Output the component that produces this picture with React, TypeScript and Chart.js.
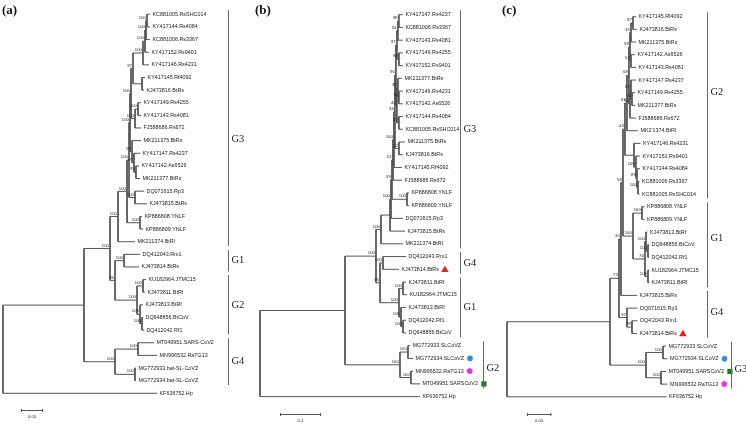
import React, { useEffect, useRef } from "react";
import { Chart, registerables } from "chart.js";

Chart.register(...registerables);

// ================= DATA =================
// ---- Panel (a) ----
const leavesA = [
  "KC881005.RsSHC014", "KY417144.Rs4084", "KC881006.Rs3367", "KY417152.Rs9401", "KY417146.Rs4231",
  "KY417145.Rf4092", "KJ473816.BtRs", "KY417149.Rs4255", "KY417143.Rs4081", "FJ588686.Rs672",
  "MK211375.BtRs", "KY417147.Rs4237", "KY417142.As6526", "MK211377.BtRs", "DQ071615.Rp3",
  "KJ473815.BtRs", "KP886808.YNLF", "KP886809.YNLF", "MK211374.BtRl", "DQ412043.Rm1",
  "KJ473814.BtRs", "KU182964.JTMC15", "KJ473811.BtRf", "KJ473813.BtRf", "DQ648856.BtCoV",
  "DQ412042.Rf1", "MT049951.SARS-CoV2", "MN996532.RaTG13", "MG772933.bat-SL-CoVZ", "MG772934.bat-SL-CoVZ",
  "KF636752.Hp",
];
const a_A1 = "((((0:.0068,1:.0068)100:.0023,2:.0091)100:.0023,3:.0091)100:.0045,4:.0136)100";
const a_A2 = "(5:.0068,6:.0045)";
const a_B = `(${a_A1}:.0227,${a_A2}:.0205)97`;
const a_C1 = "((7:.0068,8:.0068)100:.0068,9:.0136)100";
const a_X = `(${a_B}:.0045,${a_C1}:.0091)100`;
const a_D = "(10:.0205,(11:.0136,(12:.0068,13:.0091)99:.0045)97:.0045)93";
const a_G3core = `(${a_X}:.0023,${a_D}:.0045)100`;
const a_E = "(14:.0205,15:.0273)100";
const a_F = `(${a_G3core}:.0023,${a_E}:.0136)100`;
const a_KP = "(16:.0045,17:.0068)100";
const a_G = `(${a_F}:.0045,${a_KP}:.0295)100`;
const a_H = `(${a_G}:.0205,18:.0386)100`;
const a_G1 = "(19:.0364,20:.0341)100";
const a_G2 = "((21:.0068,22:.0045)100:.0136,(23:.0068,(24:.0023,25:.0045)100:.0045)100:.0068)100";
const a_G12 = `(${a_G1}:.0205,${a_G2}:.05)95`;
const a_I = `(${a_H}:.0182,${a_G12}:.0114)100`;
const a_G4 = "((26:.0364,27:.0432)100:.0523,(28:.0023,29:.0023)100:.0455)100";
const a_N1 = `(${a_I}:.0591,${a_G4}:.0705)`;
const treeA = `(${a_N1}:.1841,30:.35);`;
const cladesA = [
  { label: "G3", first: 0, last: 18 },
  { label: "G1", first: 19, last: 20 },
  { label: "G2", first: 21, last: 25 },
  { label: "G4", first: 26, last: 29 },
];
const markersA: { leaf: number; kind: string }[] = [];
const scaleBarA = { length: 0.05, text: "0.05" };

// ---- Panel (b) ----
const leavesB = [
  "KY417147.Rs4237", "KC881006.Rs3367", "KY417143.Rs4081", "KY417149.Rs4255", "KY417152.Rs9401",
  "MK211377.BtRs", "KY417146.Rs4231", "KY417142.As6526", "KY417144.Rs4084", "KC881005.RsSHC014",
  "MK211375.BtRs", "KJ473816.BtRs", "KY417145.Rf4092", "FJ588686.Rs672", "KP886808.YNLF",
  "KP886809.YNLF", "DQ071615.Rp3", "KJ473815.BtRs", "MK211374.BtRl", "DQ412043.Rm1",
  "KJ473814.BtRs", "KJ473811.BtRf", "KU182964.JTMC15", "KJ473813.BtRf", "DQ412042.Rf1",
  "DQ648856.BtCoV", "MG772933.SLCoVZ", "MG772934.SLCoVZ", "MN996532.RaTG13", "MT049951.SARSCoV2",
  "KF636752.Hp",
];
const b_n01 = "(0:.0098,1:.0098)98";
const b_n012 = `(${b_n01}:.0024,2:.0122)94`;
const b_n34 = "(3:.0098,4:.0098)98";
const b_nTop = `(${b_n012}:.0024,${b_n34}:.0049)97`;
const b_n67 = "(6:.0098,7:.0098)74";
const b_n567 = `(5:.0098,${b_n67}:.0024)38`;
const b_n89 = "(8:.0098,9:.0098)87";
const b_n59 = `(${b_n567}:.0024,${b_n89}:.0049)42`;
const b_nA = `(${b_nTop}:.0024,${b_n59}:.0024)96`;
const b_n1011 = "(10:.0146,11:.0098)32";
const b_nB = `(${b_nA}:.0024,${b_n1011}:.0098)36`;
const b_n12 = `(${b_nB}:.0024,12:.0195)100`;
const b_nD = `(${b_n12}:.0024,13:.022)61`;
const b_KP = "(14:.0049,15:.0049)100";
const b_nE = `(${b_nD}:.0024,${b_KP}:.0366)69`;
const b_nF = `(${b_nE}:.0024,16:.0293)100`;
const b_nG = `(${b_nF}:.0024,17:.0366)`;
const b_nH = `(${b_nG}:.022,18:.0537)100`;
const b_G4 = "(19:.0561,20:.039)100";
const b_n2122 = "(21:.0073,22:.0098)100";
const b_n2425 = "(24:.0073,25:.0073)100";
const b_n23 = `(23:.0122,${b_n2425}:.0049)100`;
const b_G1 = `(${b_n2122}:.0098,${b_n23}:.0049)100`;
const b_G14 = `(${b_G4}:.0073,${b_G1}:.0463)95`;
const b_A = `(${b_nH}:.0122,${b_G14}:.0098)100`;
const b_n2627 = "(26:.0049,27:.0122)100";
const b_n2829 = "(28:.0049,29:.022)100";
const b_G2 = `(${b_n2627}:.0195,${b_n2829}:.0268)100`;
const b_N1 = `(${b_A}:.0756,${b_G2}:.1341)`;
const treeB = `(${b_N1}:.2073,30:.3902);`;
const cladesB = [
  { label: "G3", first: 0, last: 18 },
  { label: "G4", first: 19, last: 20 },
  { label: "G1", first: 21, last: 25 },
  { label: "G2", first: 26, last: 29 },
];
const markersB = [
  { leaf: 20, kind: "triangle" },
  { leaf: 27, kind: "circle" },
  { leaf: 28, kind: "pentagon" },
  { leaf: 29, kind: "square" },
];
const scaleBarB = { length: 0.1, text: "0.1" };

// ---- Panel (c) ----
const leavesC = [
  "KY417145.Rf4092", "KJ473816.BtRs", "MK211375.BtRs", "KY417142.As6526", "KY417143.Rs4081",
  "KY417147.Rs4237", "KY417149.Rs4255", "MK211377.BtRs", "FJ588686.Rs672", "MK2'1374.BtRl",
  "KY417146.Rs4231", "KY417152.Rs9401", "KY417144.Rs4084", "KC881006.Rs3367", "KC881005.RsSHC014",
  "KP886808.YNLF", "KP886809.YNLF", "KJ473813.BtRf", "DQ648856.BtCoV", "DQ412042.Rf1",
  "KU182964.JTMC15", "KJ473811.BtRf", "KJ473815.BtRs", "DQ071615.Rp3", "DQ4'2043.Rm1",
  "KJ473814.BtRs", "MG772933.SLCoVZ", "MG772934.SLCoVZ", "MT049951.SARSCoV2", "MN996532.RaTG13",
  "KF636752.Hp",
];
const c_t01 = "(0:.0062,1:.0082)87";
const c_t012 = `(${c_t01}:.0041,2:.0103)35`;
const c_t34 = "(3:.0082,4:.0103)52";
const c_t04 = `(${c_t012}:.0021,${c_t34}:.0021)59`;
const c_t67 = "(6:.0062,7:.0062)79";
const c_t57 = `(5:.0103,${c_t67}:.0021)82`;
const c_t58 = `(${c_t57}:.0021,8:.0123)91`;
const c_T1 = `(${c_t04}:.0021,${c_t58}:.0021)68`;
const c_T = `(${c_T1}:.0041,9:.0226)97`;
const c_L1 = "(13:.0031,14:.0031)100";
const c_L2 = `(12:.0062,${c_L1}:.0021)89`;
const c_L3 = `(11:.0082,${c_L2}:.0021)100`;
const c_L4 = `(10:.0134,${c_L3}:.0041)`;
const c_G2 = `(${c_T}:.0041,${c_L4}:.0185)44`;
const c_KP = "(15:.0051,16:.0051)100";
const c_n1819 = "(18:.0021,19:.0021)100";
const c_n17 = `(17:.0031,${c_n1819}:.0041)100`;
const c_n2021 = "(20:.0021,21:.0021)100";
const c_Q = `(${c_n17}:.0021,${c_n2021}:.0062)76`;
const c_G1 = `(${c_KP}:.0185,${c_Q}:.0247)100`;
const c_C = `(${c_G2}:.0041,${c_G1}:.0206)58`;
const c_B = `(${c_C}:.0041,22:.0329)35`;
const c_n2425 = "(24:.0113,25:.0103)99";
const c_G4 = `(23:.0216,${c_n2425}:.0103)97`;
const c_A = `(${c_B}:.0041,${c_G4}:.0165)73`;
const c_n2627 = "(26:.0062,27:.0093)100";
const c_n2829 = "(28:.0103,29:.0134)100";
const c_G3 = `(${c_n2627}:.035,${c_n2829}:.0309)100`;
const c_N1 = `(${c_A}:.0185,${c_G3}:.0741)`;
const treeC = `(${c_N1}:.2119,30:.3282);`;
const cladesC = [
  { label: "G2", first: 0, last: 14 },
  { label: "G1", first: 15, last: 21 },
  { label: "G4", first: 22, last: 25 },
  { label: "G3", first: 26, last: 29 },
];
const markersC = [
  { leaf: 25, kind: "triangle" },
  { leaf: 27, kind: "circle" },
  { leaf: 28, kind: "square" },
  { leaf: 29, kind: "pentagon" },
];
const scaleBarC = { length: 0.05, text: "0.05" };

// ================= LAYOUT / STYLE =================
const markerColors: Record<string, string> = {
  triangle: "#e8211d",
  circle: "#2a8fe6",
  pentagon: "#f227e8",
  square: "#167a16",
};

const panels = [
  {
    letter: "(a)", letterX: 2, left: 0, width: 245, rootPx: 3, pxPerUnit: 440, y0: 14.3, dy: 12.633,
    tree: treeA, leaves: leavesA, clades: cladesA, markers: markersA, bar: scaleBarA,
    cladeX: [228, 228, 228, 228], cladeLabelAt: [9.9, 19.5, 23, 27.5], barX: 21, barY: 410,
  },
  {
    letter: "(b)", letterX: 10, left: 245, width: 262, rootPx: 15, pxPerUnit: 410, y0: 14.7, dy: 12.73,
    tree: treeB, leaves: leavesB, clades: cladesB, markers: markersB, bar: scaleBarB,
    cladeX: [215, 215, 215, 238], cladeLabelAt: [9, 19.5, 23, 27.8], barX: 35, barY: 414,
  },
  {
    letter: "(c)", letterX: 7, left: 495, width: 251, rootPx: 12, pxPerUnit: 486, y0: 16.7, dy: 12.67,
    tree: treeC, leaves: leavesC, clades: cladesC, markers: markersC, bar: scaleBarC,
    cladeX: [212, 212, 212, 236], cladeLabelAt: [6, 17.5, 23.3, 27.8], barX: 32, barY: 414,
  },
];

const H = 424;
const LINE = "#555";
const TEXT = "#222";
const SANS = '"Liberation Sans", Arial, sans-serif';
const SERIF = '"Liberation Serif", "Times New Roman", serif';

// ================= TREE HELPERS =================
type TNode = { children: TNode[]; len: number; label: string; leaf: number; x: number; y: number };

function parseNewick(s: string): TNode {
  let i = 0;
  const read = (): TNode => {
    const n: TNode = { children: [], len: 0, label: "", leaf: -1, x: 0, y: 0 };
    if (s[i] === "(") {
      i++;
      n.children.push(read());
      while (s[i] === ",") {
        i++;
        n.children.push(read());
      }
      i++;
    }
    let name = "";
    while (i < s.length && ":,);".indexOf(s[i]) < 0) name += s[i++];
    if (s[i] === ":") {
      i++;
      let num = "";
      while (i < s.length && ",);".indexOf(s[i]) < 0) num += s[i++];
      n.len = parseFloat(num);
    }
    if (n.children.length) n.label = name;
    else n.leaf = parseInt(name, 10);
    return n;
  };
  return read();
}

function layoutTree(root: TNode): TNode[] {
  const all: TNode[] = [];
  const walk = (n: TNode, x: number) => {
    n.x = x;
    all.push(n);
    if (!n.children.length) {
      n.y = n.leaf;
      return;
    }
    n.children.forEach((c) => walk(c, x + c.len));
    n.y = (n.children[0].y + n.children[n.children.length - 1].y) / 2;
  };
  walk(root, 0);
  return all;
}

function drawMarker(ctx: CanvasRenderingContext2D, kind: string, cx: number, cy: number) {
  ctx.save();
  ctx.fillStyle = markerColors[kind] || "#000";
  ctx.beginPath();
  if (kind === "triangle") {
    ctx.moveTo(cx, cy - 3.6);
    ctx.lineTo(cx + 3.8, cy + 2.8);
    ctx.lineTo(cx - 3.8, cy + 2.8);
    ctx.closePath();
  } else if (kind === "circle") {
    ctx.arc(cx, cy, 2.8, 0, Math.PI * 2);
  } else if (kind === "square") {
    ctx.rect(cx - 2.6, cy - 2.6, 5.2, 5.2);
  } else if (kind === "pentagon") {
    for (let k = 0; k < 5; k++) {
      const a = -Math.PI / 2 + (k * 2 * Math.PI) / 5;
      const px = cx + 3.3 * Math.cos(a);
      const py = cy + 3.3 * Math.sin(a);
      if (k === 0) ctx.moveTo(px, py);
      else ctx.lineTo(px, py);
    }
    ctx.closePath();
  }
  ctx.fill();
  ctx.restore();
}

// ================= PANEL COMPONENT =================
function TreePanel({ cfg }: { cfg: (typeof panels)[number] }) {
  const ref = useRef<HTMLCanvasElement | null>(null);

  useEffect(() => {
    if (!ref.current) return;
    const root = parseNewick(cfg.tree);
    const nodes = layoutTree(root);

    const pts: { x: number; y: number | null }[] = [];
    nodes.forEach((n) => {
      if (!n.children.length) return;
      const f = n.children[0];
      const l = n.children[n.children.length - 1];
      pts.push({ x: n.x, y: f.y }, { x: n.x, y: l.y }, { x: n.x, y: null });
      n.children.forEach((c) => {
        pts.push({ x: n.x, y: c.y }, { x: c.x, y: c.y }, { x: c.x, y: null });
      });
    });

    const xmin = -cfg.rootPx / cfg.pxPerUnit;
    const xmax = (cfg.width - cfg.rootPx) / cfg.pxPerUnit;
    const ymin = -cfg.y0 / cfg.dy;
    const ymax = (H - cfg.y0) / cfg.dy;

    const decor = {
      id: "treeDecor" + cfg.letter,
      afterDatasetsDraw(chart: any) {
        const ctx: CanvasRenderingContext2D = chart.ctx;
        const xs = chart.scales.x;
        const ys = chart.scales.y;
        ctx.save();

        // leaf labels
        ctx.fillStyle = TEXT;
        ctx.font = `5.4px ${SANS}`;
        ctx.textBaseline = "middle";
        ctx.textAlign = "left";
        const textEnd: Record<number, number> = {};
        nodes.forEach((n) => {
          if (n.children.length) return;
          const px = xs.getPixelForValue(n.x) + 2.5;
          const py = ys.getPixelForValue(n.y);
          const t = cfg.leaves[n.leaf];
          ctx.fillText(t, px, py);
          textEnd[n.leaf] = px + ctx.measureText(t).width;
        });

        // bootstrap values
        ctx.font = `4.2px ${SANS}`;
        ctx.textAlign = "right";
        nodes.forEach((n) => {
          if (!n.children.length || !n.label) return;
          const px = xs.getPixelForValue(n.x) - 1.2;
          const py = ys.getPixelForValue(n.y) - 3;
          ctx.fillText(n.label, px, py);
        });

        // markers
        cfg.markers.forEach((m) => {
          const end = textEnd[m.leaf];
          if (end === undefined) return;
          drawMarker(ctx, m.kind, end + 6, ys.getPixelForValue(m.leaf));
        });

        // clade bars
        ctx.strokeStyle = "#666";
        ctx.lineWidth = 1;
        ctx.font = `10.5px ${SERIF}`;
        ctx.textAlign = "left";
        cfg.clades.forEach((c, k) => {
          const bx = cfg.cladeX[k] + 0.5;
          const top = ys.getPixelForValue(c.first - 0.35);
          const bot = ys.getPixelForValue(c.last + 0.35);
          ctx.beginPath();
          ctx.moveTo(bx, top);
          ctx.lineTo(bx, bot);
          ctx.stroke();
          ctx.fillStyle = TEXT;
          ctx.fillText(c.label, bx + 3, ys.getPixelForValue(cfg.cladeLabelAt[k]));
        });

        // scale bar
        const len = xs.getPixelForValue(cfg.bar.length) - xs.getPixelForValue(0);
        const sx = cfg.barX;
        const sy = cfg.barY + 0.5;
        ctx.strokeStyle = LINE;
        ctx.beginPath();
        ctx.moveTo(sx, sy);
        ctx.lineTo(sx + len, sy);
        ctx.moveTo(sx + 0.5, sy - 1.5);
        ctx.lineTo(sx + 0.5, sy + 1.5);
        ctx.moveTo(sx + len - 0.5, sy - 1.5);
        ctx.lineTo(sx + len - 0.5, sy + 1.5);
        ctx.stroke();
        ctx.font = `4.2px ${SANS}`;
        ctx.textAlign = "center";
        ctx.fillStyle = TEXT;
        ctx.fillText(cfg.bar.text, sx + len / 2, sy + 6);

        // panel letter
        ctx.font = `bold 13px ${SERIF}`;
        ctx.textAlign = "left";
        ctx.textBaseline = "alphabetic";
        ctx.fillStyle = "#111";
        ctx.fillText(cfg.letter, cfg.letterX, 14);

        ctx.restore();
      },
    };

    const chart = new Chart(ref.current, {
      type: "scatter",
      data: {
        datasets: [
          {
            data: pts as any,
            showLine: true,
            spanGaps: false,
            borderColor: LINE,
            borderWidth: 1,
            pointRadius: 0,
            pointHoverRadius: 0,
            fill: false,
            tension: 0,
          } as any,
        ],
      },
      options: {
        animation: false,
        responsive: false,
        maintainAspectRatio: false,
        events: [],
        layout: { padding: 0 },
        plugins: { legend: { display: false }, tooltip: { enabled: false } },
        scales: {
          x: { type: "linear", display: false, min: xmin, max: xmax },
          y: { type: "linear", display: false, reverse: true, min: ymin, max: ymax },
        },
      },
      plugins: [decor],
    });
    return () => chart.destroy();
  }, [cfg]);

  return (
    <canvas
      ref={ref}
      width={cfg.width}
      height={H}
      style={{ position: "absolute", left: cfg.left, top: 0, width: cfg.width, height: H }}
    />
  );
}

export default function App() {
  return (
    <div
      style={{
        position: "absolute",
        left: 0,
        top: 0,
        width: 746,
        height: H,
        background: "#ffffff",
        overflow: "hidden",
      }}
    >
      {panels.map((p) => (
        <TreePanel key={p.letter} cfg={p} />
      ))}
    </div>
  );
}
